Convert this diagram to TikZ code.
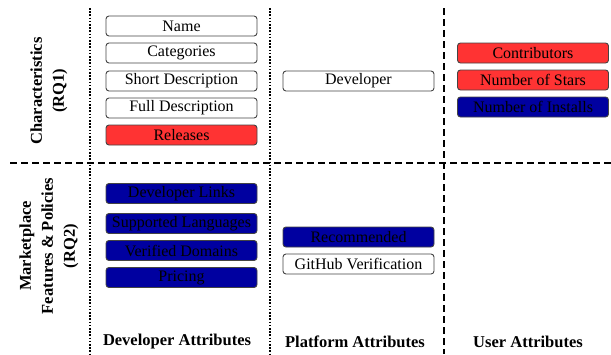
\documentclass[tikz,border=0pt]{standalone}
\usepackage{fontspec}
\setmainfont{Liberation Serif}
\definecolor{myred}{HTML}{FF3333}
\definecolor{myblue}{HTML}{0000A0}
\definecolor{myborder}{HTML}{444444}
\begin{document}
\begin{tikzpicture}[x=1pt,y=-1pt,
  attr/.style={draw=myborder, line width=0.9pt, rounded corners=3pt, minimum width=151pt, minimum height=20pt, inner sep=0pt, font=\fontsize{16}{19}\selectfont, text=black},
  whitebox/.style={attr, fill=white},
  redbox/.style={attr, fill=myred},
  bluebox/.style={attr, fill=myblue},
  rowlabel/.style={rotate=90, align=center, font=\fontsize{16.5}{22}\selectfont\bfseries},
  collabel/.style={font=\fontsize{16.5}{20}\selectfont\bfseries},
  dotline/.style={line width=2pt, dash pattern=on 1.6pt off 1.6pt},
  dashline/.style={line width=1.3pt, dash pattern=on 7pt off 4pt}
]
\useasboundingbox (0,0) rectangle (611,354);
\fill[white] (0,0) rectangle (611,354);

% separators
\coordinate (v1t) at (90,8);   \coordinate (v1b) at (90,354);
\coordinate (v2t) at (270,8);  \coordinate (v2b) at (270,354);
\coordinate (v3t) at (444,8);  \coordinate (v3b) at (444,354);
\coordinate (hl) at (10,163);  \coordinate (hr) at (611,163);
\draw[dashline] (hl) -- (hr);
\draw[dotline] (v1t) -- (v1b);
\draw[dotline] (v2t) -- (v2b);
\draw[dashline] (v3t) -- (v3b);

% row labels
\node[rowlabel] (rq1) at (49,91) {Characteristics\\(RQ1)};
\node[rowlabel] (rq2) at (49,246) {Marketplace\\Features \& Policies\\(RQ2)};

% developer attributes
\node[whitebox] (name) at (181.5,26) {Name};
\node[whitebox] (cat) at (181.5,53) {Categories};
\node[whitebox] (sdesc) at (181.5,81) {Short Description};
\node[whitebox] (fdesc) at (181.5,108) {Full Description};
\node[redbox] (rel) at (181.5,135) {Releases};
\node[bluebox] (links) at (181.5,193.5) {Developer Links};
\node[bluebox] (lang) at (181.5,223.5) {Supported Languages};
\node[bluebox] (dom) at (181.5,250.5) {Verified Domains};
\node[bluebox] (price) at (181.5,277.5) {Pricing};

% platform attributes
\node[whitebox] (dev) at (358.5,81) {Developer};
\node[bluebox] (rec) at (358.5,237) {Recommended};
\node[whitebox] (gh) at (358.5,264) {GitHub Verification};

% user attributes
\node[redbox] (contrib) at (533,53) {Contributors};
\node[redbox] (stars) at (533,80) {Number of Stars};
\node[bluebox] (inst) at (533,107) {Number of Installs};

% column labels
\node[collabel] (c1) at (177,342) {Developer Attributes};
\node[collabel] (c2) at (355,342) {Platform Attributes};
\node[collabel] (c3) at (528,342) {User Attributes};
\end{tikzpicture}
\end{document}
